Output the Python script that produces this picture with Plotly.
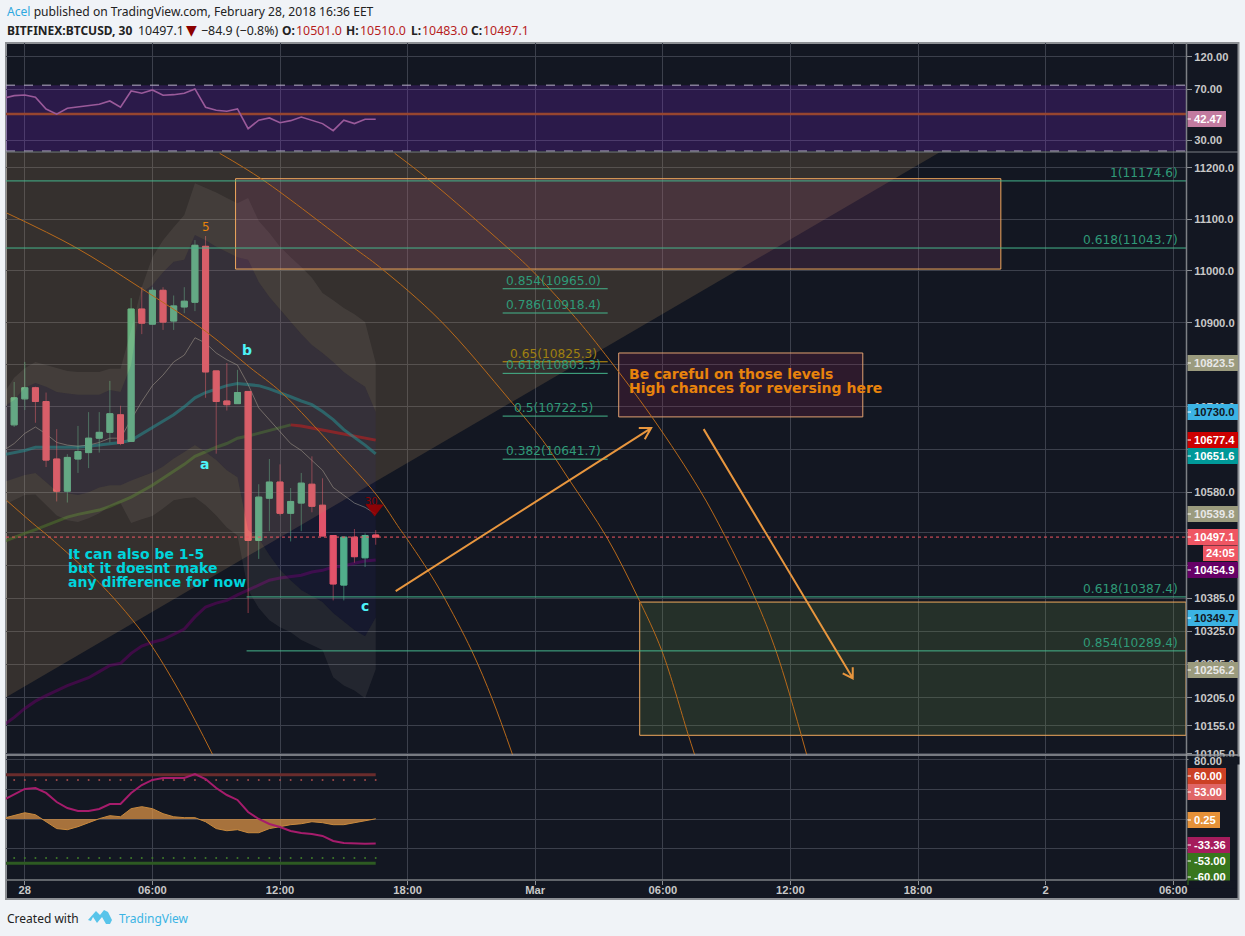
import math
import plotly.graph_objects as go

# ---------- data ----------
bar_hours = [i * 0.5 - 0.5 for i in range(35)]
line_hours = [-1.0] + bar_hours

opens = [10706,10755,10776,10750,10642,10582,10642,10654,10681,10692,10725,10675,10926,10897,10962,10903,10930,10939,11047,10808,10751,10746,10769,10491,10569,10599,10541,10560,10595,10556,10500,10409,10497,10459,10501]
highs = [10787,10825,10778,10767,10698,10651,10704,10730,10730,10789,10742,10947,10968,10968,10968,10952,10968,11059,11067,10808,10823,10810,10769,10595,10642,10632,10588,10616,10647,10606,10500,10497,10512,10504,10510]
lows = [10702,10734,10710,10627,10563,10561,10616,10625,10654,10673,10668,10675,10878,10897,10886,10886,10918,10922,10757,10652,10733,10746,10358,10457,10508,10537,10489,10508,10543,10499,10381,10381,10450,10442,10483]
closes = [10757,10776,10750,10640,10582,10645,10656,10681,10692,10727,10671,10926,10899,10962,10901,10932,10941,11049,10806,10750,10744,10767,10491,10571,10599,10541,10563,10597,10554,10499,10411,10497,10461,10500,10497.1]

ema_teal = [10650,10654,10658,10664,10664,10664,10664,10664,10666,10668,10671,10673,10677,10689,10702,10714,10725,10740,10757,10767,10774,10780,10784,10782,10780,10774,10767,10759,10751,10744,10731,10716,10697,10683,10668,10651.6]
ma_long = [10489,10497,10504,10511,10519,10526,10534,10539,10543,10547,10554,10562,10571,10582,10593,10606,10619,10632,10647,10656,10664,10671,10681,10685,10690,10696,10700,10706,10704,10700,10696,10692,10689,10685,10681,10677.4]
ma_purple = [10156,10170,10186,10199,10209,10218,10227,10234,10241,10252,10263,10267,10285,10298,10305,10310,10319,10329,10351,10369,10376,10381,10391,10400,10409,10418,10422,10425,10427,10433,10436,10442,10444,10449,10453,10454.9]
ma_grey = [10658,10671,10690,10702,10689,10673,10668,10666,10668,10673,10681,10681,10716,10750,10780,10800,10825,10838,10871,10861,10842,10829,10819,10782,10738,10716,10692,10671,10658,10640,10621,10589,10575,10560,10552,10539.8]

band_upper_top = [10765,10795,10813,10825,10819,10813,10808,10806,10806,10806,10812,10812,10886,10968,11026,11059,11084,11108,11170,11161,11152,11141,11131,11141,11096,11073,11046,11026,11007,10986,10957,10943,10928,10916,10901,10823.5]
band_upper_in = [10740,10753,10776,10785,10778,10768,10765,10763,10763,10763,10772,10768,10819,10957,10972,10997,11017,11021,11069,11059,11046,11036,11026,11021,10978,10949,10924,10901,10878,10857,10842,10825,10806,10791,10778,10730]
band_lower_in = [10599,10606,10612,10616,10599,10582,10578,10575,10580,10589,10593,10593,10602,10610,10617,10628,10643,10655,10668,10655,10640,10621,10608,10510,10495,10464,10437,10418,10400,10389,10378,10358,10342,10327,10316,10349.7]
band_lower_bot = [10556,10565,10575,10576,10556,10537,10528,10525,10532,10541,10554,10560,10523,10530,10536,10550,10565,10569,10571,10556,10537,10515,10500,10400,10367,10345,10332,10323,10309,10300,10291,10242,10227,10218,10204,10256.2]

rsi = [60.3,63.0,63.7,61.3,50.4,46.2,51.0,52.1,53.9,54.6,57.6,51.9,68.1,65.5,69.2,63.4,64.0,65.5,70.4,51.9,49.4,48.5,50.4,36.3,41.8,43.4,40.1,41.5,44.1,42.0,39.5,35.1,41.8,39.5,42.47,42.47]
osc_magenta = [25.8,33,40.7,42,35.3,23,14.9,10.8,10.8,13.6,20.3,20.3,35.3,46,52.9,55.6,55.6,55.6,61,54.2,42,32.5,25.8,9.5,0,-6.8,-10.8,-16.3,-19,-20.3,-23,-29.8,-32.5,-33.4,-33.4,-33.36]
osc_orange = [1,4.5,8.5,5.8,-3.7,-13,-14.5,-10.4,-5,0.4,4.5,3,14,16.7,14,7.2,3,1.8,1.8,-3.7,-13,-15.9,-14.5,-18.6,-18.6,-13,-10.4,-7.7,-6.4,-3.7,-5,-7.7,-7.7,-5,-2.3,0.25]

arc_a_h = [-0.86,2.34,5.39,8.55,10.57,12.07,14.66,16.54,17.62,17.86,18.94,19.65,21.01,22.0,22.94]
arc_a_p = [11112,11046,10968,10882,10815,10767,10658,10575,10513,10500,10437,10391,10290,10201,10103]
arc_b_h = [-0.86,0.36,1.16,3.51,5.07,6.01,7.42,8.83]
arc_b_p = [10565,10523,10497,10413,10345,10296,10206,10104]
arc_c_h = [9.16,11.18,15.41,16.68,19.51,22.8,24.35,25.62,27.36,28.82,29.95,31.17,31.5]
arc_c_p = [11229,11177,11046,11007,10905,10753,10677,10602,10497,10387,10290,10142,10103]
arc_d_h = [17.39,18.94,22.65,23.83,25.71,27.03,29.52,31.74,32.91,34.32,35.36,36.77]
arc_d_p = [11229,11179,11046,11001,10918,10853,10719,10584,10500,10387,10285,10103]

fan_h = [-0.88, 43.02, -0.88]
fan_p = [10206, 11231, 11231]

fib_full = [(11174.6, "1(11174.6)"), (11043.7, "0.618(11043.7)")]
fib_low = [(10387.4, "0.618(10387.4)"), (10289.4, "0.854(10289.4)")]
fib_short = [(10965.0, "0.854(10965.0)"), (10918.4, "0.786(10918.4)"), (10803.3, "0.618(10803.3)"), (10722.5, "0.5(10722.5)"), (10641.7, "0.382(10641.7)")]
fib_gold = (10825.3, "0.65(10825.3)")
last_price = 10497.1

main_ticks = [11200,11100,11000,10900,10820,10740,10660,10580,10505,10445,10385,10325,10265,10205,10155,10105]
main_hidden = [10820,10660,10505,10445]
rsi_ticks = [120,70,30]
osc_ticks = [80,40,0,-40]
x_ticks = [0,6,12,18,24,30,36,42,48,54]
x_labels = ["<b>28</b>","06:00","12:00","18:00","<b>Mar</b>","06:00","12:00","18:00","<b>2</b>","06:00"]

price_labels = [("10823.5",363,"#9b9b7e","#e8e8e8",1238),("10730.0",412,"#3bb3e4","#131722",1238),("10677.4",440,"#cc0000","#ffffff",1238),
                ("10651.6",456,"#009999","#ffffff",1238),("10539.8",514,"#9b9b7e","#e8e8e8",1238),("10497.1",537,"#ef5663","#ffffff",1238),
                ("10454.9",570,"#660066","#ffffff",1238),("10349.7",618,"#3bb3e4","#131722",1238),("10256.2",670,"#9b9b7e","#e8e8e8",1238),
                ("42.47",119,"#c27ba0","#ffffff",1226),("60.00",776,"#cc4125","#ffffff",1226),("53.00",792,"#e06666","#ffffff",1226),
                ("0.25",820,"#e69138","#ffffff",1220),("-33.36",845,"#a61c5c","#ffffff",1230),("-53.00",861,"#38761d","#ffffff",1230),("-60.00",877,"#38761d","#ffffff",1230)]

# ---------- geometry of the page ----------
L, R, T, B = 6, 1186, 43, 880
XR = [-0.884, 54.6]
def PX(x): return (x - L) / (R - L)
def PY(y): return (B - y) / (B - T)
def H(px): return (px - 25.3) / 21.26
main_dom = [PY(755), PY(152)]
rsi_dom = [PY(152), 1]
osc_dom = [0, PY(756)]
main_range = [math.log10(10103), math.log10(11231.5)]

DARK = "#131722"
GRID = "#3c404c"
FONT_AX = "Liberation Sans"
FONT_T = "Noto Sans"
FONT_D = "DejaVu Sans"

fig = go.Figure()
def line(x, y, color, width=1, dash=None, axis="y5", shape=None):
    fig.add_trace(go.Scatter(x=x, y=y, mode="lines", yaxis=axis, line=dict(color=color, width=width, dash=dash, shape=shape or "linear"), hoverinfo="skip"))

# lines under the candles
line(line_hours, ma_purple, "rgba(102,0,102,0.52)", 3, axis="y")
line(line_hours[:28], ma_long[:28], "rgba(56,118,29,0.5)", 3, axis="y")
line(line_hours[27:], ma_long[27:], "rgba(204,0,0,0.6)", 3, axis="y")
line(line_hours, ema_teal, "rgba(0,153,153,0.55)", 3, axis="y")
line(line_hours, ma_grey, "rgba(170,170,150,0.55)", 1, axis="y")

# candles
up, dn = "#53b987", "#ef5663"
fig.add_trace(go.Candlestick(x=bar_hours, open=opens, high=highs, low=lows, close=closes, yaxis="y4", whiskerwidth=0,
    increasing=dict(line=dict(color="rgba(83,185,135,0.55)", width=1), fillcolor="rgba(0,0,0,0)"),
    decreasing=dict(line=dict(color="rgba(239,86,99,0.55)", width=1), fillcolor="rgba(0,0,0,0)"), hoverinfo="skip"))
fig.add_trace(go.Candlestick(x=bar_hours, open=opens, close=closes,
    high=[max(o, c) for o, c in zip(opens, closes)], low=[min(o, c) for o, c in zip(opens, closes)], yaxis="y4", whiskerwidth=0,
    increasing=dict(line=dict(color=up, width=1), fillcolor=up),
    decreasing=dict(line=dict(color=dn, width=1), fillcolor=dn), hoverinfo="skip"))

def poly(x, y, fill, border=None, axis="y5", width=1):
    fig.add_trace(go.Scatter(x=x, y=y, mode="lines", fill="toself", fillcolor=fill, yaxis=axis,
                             line=dict(color=border or "rgba(0,0,0,0)", width=width if border else 0), hoverinfo="skip"))

# overlays above the candles
poly(fan_h, fan_p, "rgba(189,148,94,0.2)")
poly(line_hours + line_hours[::-1], band_upper_in + band_lower_in[::-1], "rgba(65,48,196,0.08)")
poly(line_hours + line_hours[::-1], band_upper_top + band_upper_in[::-1], "rgba(255,240,220,0.07)")
poly(line_hours + line_hours[::-1], band_lower_in + band_lower_bot[::-1], "rgba(255,240,220,0.07)")

BOX = "#f0a85c"
poly([H(236), H(1001), H(1001), H(236), H(236)], [11179, 11179, 11003, 11003, 11179], "rgba(148,68,121,0.2)", BOX)
poly([H(640), XR[1], XR[1], H(640), H(640)], [10378, 10378, 10138, 10138, 10378], "rgba(109,148,69,0.2)", BOX)
poly([H(619), H(863), H(863), H(619), H(619)], [10842, 10842, 10721, 10721, 10842], "rgba(149,38,84,0.2)", "#e0a070")

ARC = "#b8691a"
line(arc_a_h, arc_a_p, ARC, 1, shape="spline")
line(arc_b_h, arc_b_p, ARC, 1, shape="spline")
line(arc_c_h, arc_c_p, ARC, 1, shape="spline")
line(arc_d_h, arc_d_p, ARC, 1, shape="spline")

FIB = "#45b58c"
for p, _ in fib_full:
    line(XR, [p, p], FIB, 1)
for p, _ in fib_low:
    line([H(247), XR[1]], [p, p], FIB, 1)
for p, _ in fib_short:
    line([H(503), H(608)], [p, p], FIB, 1)
line([H(503), H(608)], [fib_gold[0], fib_gold[0]], "#c8960b", 1)
line(XR, [last_price, last_price], "#ef5663", 1, dash="dot")

# arrows
ARW = "#e8963e"
line([17.44, 29.45, 28.87, 29.45, 29.15], [10398, 10700, 10700, 10700, 10679], ARW, 2)
line([31.92, 38.93, 38.93, 38.93, 38.46], [10698, 10240, 10260, 10240, 10249], ARW, 2)

fig.add_trace(go.Scatter(x=[16.45], y=[10550], mode="markers", yaxis="y5", hoverinfo="skip",
                         marker=dict(symbol="triangle-down", size=16, color="rgba(160,0,0,0.85)")))

# RSI pane
poly([XR[0], XR[1], XR[1], XR[0], XR[0]], [75, 75, 25, 25, 75], "rgba(139,38,234,0.2)", axis="y2")
line(XR, [75, 75], "#b8b0c8", 1, dash="dash", axis="y2")
line(XR, [25, 25], "#b8b0c8", 1, dash="dash", axis="y2")
line(XR, [46.4, 46.4], "#96452f", 2.5, axis="y2")
line(line_hours, rsi, "#9a5a9a", 1.6, axis="y2")

# oscillator pane
line([XR[0], 16.5], [60, 60], "#6a2c2c", 3, axis="y3")
line([XR[0], 16.5], [-60, -60], "#2d5a22", 3, axis="y3")
fig.add_trace(go.Scatter(x=bar_hours, y=[53] * 35, mode="markers", yaxis="y3", hoverinfo="skip", marker=dict(size=2, color="#a04a4a")))
fig.add_trace(go.Scatter(x=bar_hours, y=[-53] * 35, mode="markers", yaxis="y3", hoverinfo="skip", marker=dict(size=2, color="#3f7a2a")))
fig.add_trace(go.Scatter(x=line_hours, y=osc_orange, mode="lines", yaxis="y3", fill="tozeroy", fillcolor="rgba(225,150,70,0.72)",
                         line=dict(color="#c98a3e", width=1), hoverinfo="skip"))
line(line_hours, osc_magenta, "#a61c6c", 2, axis="y3")

# ---------- annotations ----------
ann = []
def tx(h, p, text, color, size, family=FONT_D, xanchor="center", yanchor="middle", yshift=0):
    ann.append(dict(x=h, y=math.log10(p), xref="x", yref="y", text=text, showarrow=False, xanchor=xanchor, yanchor=yanchor, yshift=yshift,
                    font=dict(color=color, size=size, family=family), borderpad=0))
def pg(x, y, text, color, size, family=FONT_T, xanchor="left", bg=None, w=None, h=None, yanchor="middle"):
    ann.append(dict(x=PX(x), y=PY(y), xref="paper", yref="paper", text=text, showarrow=False, xanchor=xanchor, yanchor=yanchor,
                    bgcolor=bg, width=w, height=h, borderpad=0, align="left",
                    font=dict(color=color, size=size, family=family)))

FIBT = "#2f9a78"
for p, t in fib_full + fib_low:
    tx(H(1179), p, t, FIBT, 12.2, xanchor="right", yanchor="bottom")
for p, t in fib_short:
    tx(H(554), p, t, FIBT, 12.2, yanchor="bottom")
tx(H(554), fib_gold[0], fib_gold[1], "#a08010", 12.2, yanchor="bottom")

tx(H(206), 11085, "5", "#e8830c", 12)
tx(H(247), 10847, "<b>b</b>", "#4df3f8", 14)
tx(H(205), 10633, "<b>a</b>", "#4df3f8", 14)
tx(H(365), 10371, "<b>c</b>", "#4df3f8", 14)
tx(H(372), 10562, "30", "#8b0000", 10)
for y_p, t in [(10466, "It can also be 1-5"), (10441, "but it doesnt make"), (10415, "any difference for now")]:
    tx(H(67.5), y_p, "<b>%s</b>" % t, "#00d4dc", 14, xanchor="left")
for y_p, t in [(10802, "Be careful on those levels"), (10776, "High chances for reversing here")]:
    tx(H(628.5), y_p, "<b>%s</b>" % t, "#e8830c", 14, xanchor="left")

RED = "#b71c1c"
INK = "#222222"
pg(6, 11, '<span style="color:#2ea8e0">Acel</span> published on TradingView.com, February 28, 2018 16:36 EET', INK, 12.1)
pg(6, 30, "<b>BITFINEX:BTCUSD, 30</b>", INK, 12)
pg(137, 30, "10497.1", INK, 12.4)
pg(185, 30, "▼", "#8b0000", 14, family=FONT_D)
pg(200, 30, "−84.9 (−0.8%)", INK, 12.4)
for x_k, k, x_v, v in [(281, "O:", 295, "10501.0"), (345, "H:", 359, "10510.0"), (410, "L:", 421, "10483.0"), (470, "C:", 482, "10497.1")]:
    pg(x_k, 30, "<b>%s</b>" % k, INK, 12)
    pg(x_v, 30, v, RED, 12.4)
pg(6, 918, "Created with", INK, 12)
pg(118, 918, "TradingView", "#3bb3e4", 12)

# axis label blocks
shapes = []
def rect(x0, y0, x1, y1, fill=None, ln=None, lw=1, layer="above"):
    shapes.append(dict(type="rect", xref="paper", yref="paper", x0=PX(x0), x1=PX(x1), y0=PY(y0), y1=PY(y1), fillcolor=fill,
                       line=dict(color=ln or "rgba(0,0,0,0)", width=lw if ln else 0), layer=layer))
def seg(x0, y0, x1, y1, color, lw=1, layer="above"):
    shapes.append(dict(type="line", xref="paper", yref="paper", x0=PX(x0), x1=PX(x1), y0=PY(y0), y1=PY(y1), line=dict(color=color, width=lw), layer=layer))

rect(6, 43, 1238.5, 899, DARK, "#8c8f94", 2, layer="below")
for t, y, bg, fg, right in price_labels:
    rect(1187.5, y - 8, right, y + 8, bg)
    seg(1187.5, y, 1191, y, "#ffffff")
    pg(1193, y, "<b>%s</b>" % t, fg, 11.2, family=FONT_AX)
rect(1203, 545.5, 1238, 561, "#ef5663")
pg(1205, 553, "<b>24:05</b>", "#ffffff", 11.2, family=FONT_AX)
# clipped tick labels at pane edges
pg(1187.5, 756, " ", DARK, 6, family=FONT_AX, bg=DARK, w=50, h=7, yanchor="top")
pg(1193, 761, "<b>80.00</b>", "#c8c8c8", 11.2, family=FONT_AX)
pg(1187.5, 880, " ", DARK, 6, family=FONT_AX, bg=DARK, w=46, h=7, yanchor="top")

seg(1186.5, 43, 1186.5, 880, "#7d8085", 1.5)
seg(6, 880, 1186.5, 880, "#7d8085", 1.5)
seg(6, 152, 1238, 152, "#7d8085", 1)
seg(6, 755, 1238, 755, "#9a9da2", 1.5)

# logo
def P(x, y): return "%.5f,%.5f" % (PX(x), PY(y))
shapes.append(dict(type="path", xref="paper", yref="paper", layer="above", fillcolor="#58c4ea", line=dict(width=0),
    path="M " + " L ".join(P(*q) for q in [(88,920),(96,911),(100,915),(104,910),(108,912),(112,920),(110,924),(106,924),(102,917),(97,923),(93,917),(91,921)]) + " Z"))

def yax(dom, rng, ticks, labels, kind="log", **kw):
    return dict(domain=dom, range=rng, type=kind, side="right", anchor="x", tickvals=ticks, ticktext=labels, ticks="outside", ticklen=5,
                tickcolor="#8c8f94", tickfont=dict(color="#c8c8c8", size=11.2, family=FONT_AX, weight=700), showgrid=True, gridcolor=GRID,
                gridwidth=1, zeroline=False, showline=False, automargin=False, **kw)

fig.update_layout(
    width=1245, height=936, autosize=False, showlegend=False, hovermode=False, dragmode=False, boxgap=0.3, boxgroupgap=0.19,
    margin=dict(l=L, r=1245 - R, t=T, b=936 - B, pad=0),
    paper_bgcolor="#f0f3f7", plot_bgcolor="rgba(0,0,0,0)",
    xaxis=dict(range=XR, anchor="y3", tickvals=x_ticks, ticktext=x_labels, ticks="outside", ticklen=4, tickcolor="#8c8f94", ticklabelstandoff=-4,
               tickfont=dict(color="#c8c8c8", size=11.2, family=FONT_AX, weight=700), showgrid=True, gridcolor=GRID, zeroline=False,
               showline=False, rangeslider=dict(visible=False), automargin=False, fixedrange=True),
    yaxis=yax(main_dom, main_range, main_ticks, ["" if v in main_hidden else "%.1f" % v for v in main_ticks]),
    yaxis2=yax(rsi_dom, [math.log10(24.6), math.log10(151.5)], rsi_ticks, ["%.2f" % v for v in rsi_ticks]),
    yaxis3=yax(osc_dom, [-82.7, 85.4], osc_ticks, [""] * 4, kind="linear"),
    yaxis4=dict(overlaying="y", type="log", range=main_range, visible=False, anchor="x", side="right"),
    yaxis5=dict(overlaying="y", type="log", range=main_range, visible=False, anchor="x", side="right"),
    annotations=ann, shapes=shapes,
)
fig.write_html("out.html", config={"displayModeBar": False},
               post_script="document.body.style.margin='0';document.body.style.background='#f0f3f7';document.body.style.overflow='hidden';")
